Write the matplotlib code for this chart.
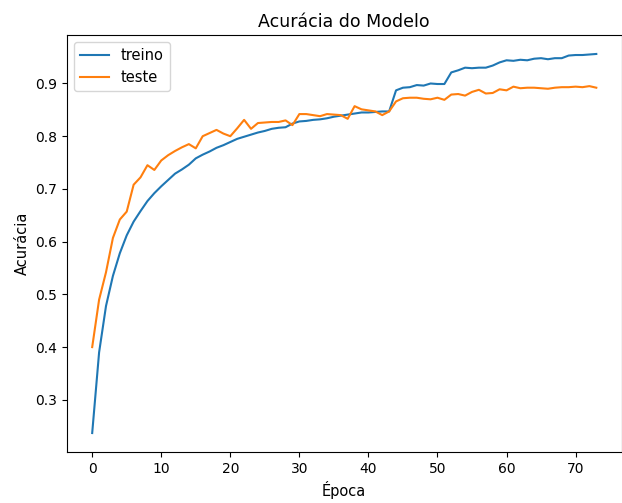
import matplotlib
matplotlib.use("Agg")
import matplotlib.pyplot as plt

# acuracia por epoca
treino = [0.237, 0.390, 0.478, 0.535, 0.578, 0.612, 0.638, 0.658, 0.677, 0.692,
          0.705, 0.717, 0.729, 0.737, 0.746, 0.758, 0.765, 0.771, 0.778, 0.783,
          0.789, 0.795, 0.799, 0.803, 0.807, 0.810, 0.814, 0.816, 0.817, 0.824,
          0.828, 0.829, 0.831, 0.832, 0.834, 0.837, 0.839, 0.841, 0.843, 0.845,
          0.845, 0.846, 0.847, 0.847, 0.887, 0.892, 0.893, 0.897, 0.896, 0.900,
          0.899, 0.899, 0.921, 0.925, 0.930, 0.929, 0.930, 0.930, 0.934, 0.940,
          0.944, 0.943, 0.945, 0.944, 0.947, 0.948, 0.946, 0.948, 0.948, 0.953,
          0.954, 0.954, 0.955, 0.956]
teste = [0.400, 0.490, 0.542, 0.607, 0.642, 0.657, 0.708, 0.722, 0.745, 0.736,
         0.754, 0.764, 0.772, 0.779, 0.785, 0.777, 0.800, 0.806, 0.812, 0.805,
         0.800, 0.815, 0.831, 0.814, 0.825, 0.826, 0.827, 0.827, 0.830, 0.821,
         0.842, 0.842, 0.840, 0.838, 0.842, 0.841, 0.840, 0.833, 0.857, 0.851,
         0.849, 0.847, 0.840, 0.847, 0.866, 0.872, 0.873, 0.873, 0.871, 0.870,
         0.873, 0.869, 0.879, 0.880, 0.877, 0.884, 0.888, 0.881, 0.882, 0.889,
         0.887, 0.894, 0.891, 0.892, 0.892, 0.891, 0.890, 0.892, 0.893, 0.893,
         0.894, 0.893, 0.895, 0.892]

fig = plt.figure(figsize=(6.22, 5.03), dpi=100)
ax = fig.add_axes([0.1077, 0.1014, 0.8915, 0.829])
ax.plot(treino, label="treino")
ax.plot(teste, label="teste")
ax.set_title("Acurácia do Modelo", fontsize=12.5)
ax.set_xlabel("Época", fontsize=10.5)
ax.set_ylabel("Acurácia", fontsize=10.5)
ax.legend(loc="upper left", fontsize=10.5)

fig.savefig("out.png", dpi=100)
